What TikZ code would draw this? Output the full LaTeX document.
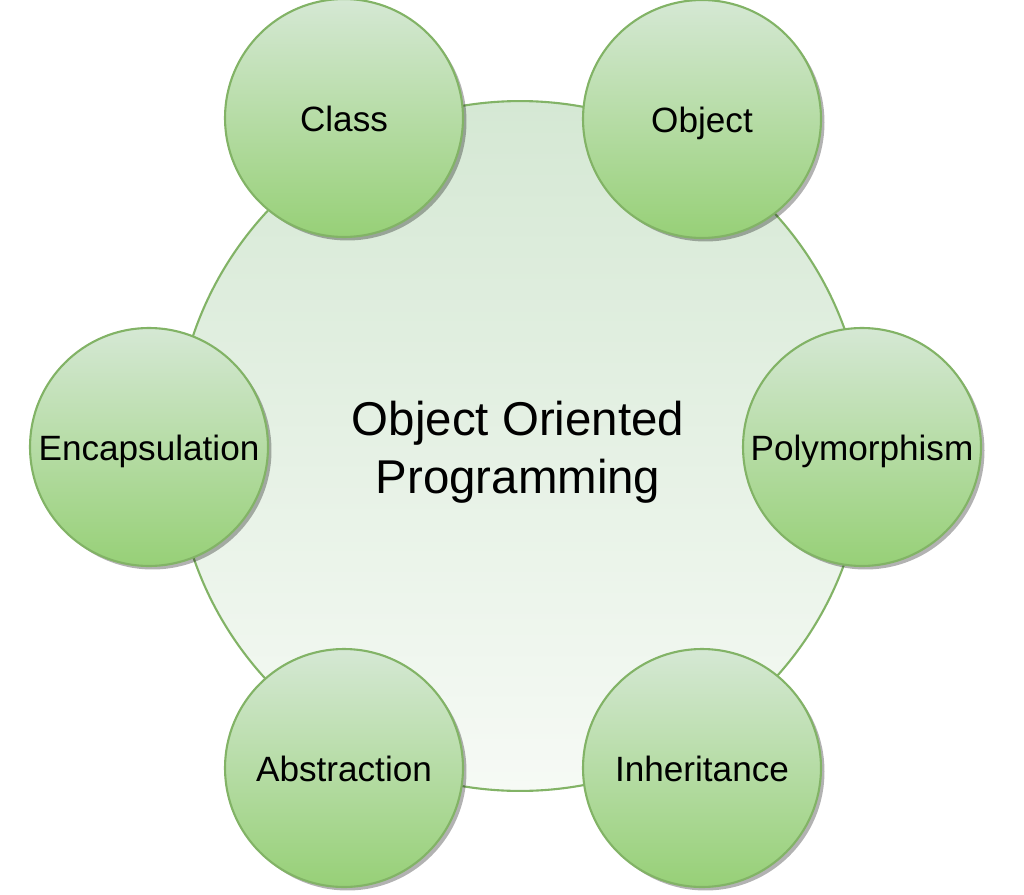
\documentclass[tikz,border=0pt]{standalone}
\usepackage{fontspec}
\setmainfont{Liberation Sans}
\usetikzlibrary{shadows}

\definecolor{oopline}{HTML}{82B366}
\definecolor{ooptop}{HTML}{D5E8D4}
\definecolor{oopbottom}{HTML}{97D077}
\definecolor{oopcore}{HTML}{F6FAF5}

\begin{document}
\begin{tikzpicture}[x=0.02cm, y=-0.02cm, line width=1.2pt,
  concept/.style={circle, draw=oopline, top color=ooptop, bottom color=oopbottom,
    minimum size=4.76cm, inner sep=0pt, text height=15pt, text depth=0pt,
    font=\fontsize{20}{24}\selectfont,
    drop shadow={shadow xshift=2pt, shadow yshift=-2pt, fill=black, opacity=0.3}},
  core/.style={circle, draw=oopline, top color=ooptop, bottom color=oopcore,
    minimum size=13.8cm, inner sep=0pt}]

\useasboundingbox (0,0) rectangle (1024,895);

\node [core] (oop) at (520,446) {};
\node [align=center, font=\fontsize{27}{33}\selectfont] (ooptitle) at (518,452)
  {Object Oriented\\Programming};

\node [concept] (class) at (344,118) {Class};
\node [concept] (object) at (702,119) {Object};
\node [concept] (encap) at (149,447) {Encapsulation};
\node [concept] (poly) at (862,447) {Polymorphism};
\node [concept] (abstr) at (344,768) {Abstraction};
\node [concept] (inher) at (702,768) {Inheritance};

\end{tikzpicture}
\end{document}
